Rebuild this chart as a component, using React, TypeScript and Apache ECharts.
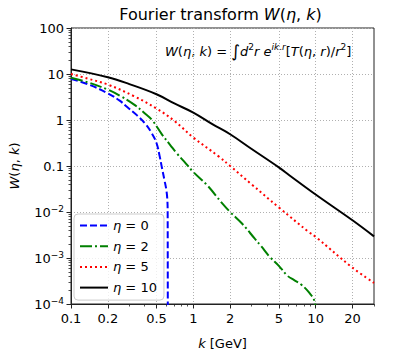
import React, { useEffect, useRef } from "react";
import * as echarts from "echarts";

const FONT = "DejaVu Sans";

// Axis ticks (k in GeV, W exponents)
const kMajorTicks = [0.1, 0.2, 0.5, 1, 2, 5, 10, 20];
const kMinorTicks = [0.3, 0.4, 0.6, 0.7, 0.8, 0.9, 3, 4, 6, 7, 8, 9, 30];
const kMin = 0.1;
const kMax = 30;
const wDecades = [-4, -3, -2, -1, 0, 1, 2];
const wMinorMantissas = [2, 3, 4, 5, 6, 7, 8, 9];

// Series: eta = 0
const kEta0 = [0.1, 0.137, 0.2, 0.25, 0.288, 0.347, 0.404, 0.458, 0.5, 0.53, 0.555, 0.58, 0.6, 0.612, 0.617, 0.619];
const wEta0 = [7.76, 6.03, 3.8, 2.63, 1.91, 1.26, 0.832, 0.513, 0.316, 0.166, 0.0891, 0.0501, 0.0316, 0.02, 0.01, 0.000001];

// eta = 2
const kEta2 = [0.1, 0.137, 0.2, 0.25, 0.326, 0.4, 0.46, 0.55, 0.65, 0.729, 0.84, 1, 1.3, 1.71, 2, 2.5, 3.18, 3.6, 4.2, 5, 5.91, 6.68, 7.57, 8.83, 9.82, 10.2];
const wEta2 = [8.32, 6.61, 4.57, 3.39, 2.19, 1.41, 1.0, 0.501, 0.282, 0.191, 0.126, 0.0741, 0.038, 0.0158, 0.01, 0.00562, 0.00263, 0.00178, 0.00107, 0.000676, 0.000407, 0.000331, 0.000269, 0.000178, 0.000112, 0.00004];

// eta = 5
const kEta5 = [0.1, 0.137, 0.2, 0.326, 0.5, 0.7, 1, 1.61, 2, 3, 5, 8.83, 10, 20, 30];
const wEta5 = [10, 7.94, 5.89, 3.31, 1.78, 0.955, 0.417, 0.162, 0.1, 0.0398, 0.0126, 0.00363, 0.00288, 0.000617, 0.000288];

// eta = 10
const kEta10 = [0.1, 0.2, 0.3, 0.5, 0.7, 1, 1.43, 2, 3, 5, 6.09, 10, 20, 30];
const wEta10 = [12.6, 8.51, 6.03, 3.63, 2.29, 1.45, 0.813, 0.49, 0.234, 0.0933, 0.0631, 0.024, 0.0066, 0.00295];

const seriesNames = ["η = 0", "η = 2", "η = 5", "η = 10"];
const seriesColors = ["#0000ff", "#008000", "#ff0000", "#000000"];

function yLabel(v: number): string {
  const e = Math.round(v);
  if (e === 2) return "100";
  if (e === 1) return "10";
  if (e === 0) return "1";
  if (e === -1) return "0.1";
  return `10{s|−${-e}}`;
}

function kLabel(v: number): string {
  const k = Math.pow(10, v);
  return String(Math.round(k * 1000) / 1000);
}

export default function App() {
  const ref = useRef<HTMLDivElement>(null);
  useEffect(() => {
    const chart = echarts.init(ref.current!, null, { renderer: "svg" });
    const pts = (ks: number[], ws: number[]) => ks.map((k, i) => [Math.log10(k), Math.log10(ws[i])]);
    const wMinor: number[] = [];
    wDecades.slice(0, -1).forEach((d) => wMinorMantissas.forEach((m) => wMinor.push(d + Math.log10(m))));

    const lineTypes: any[] = [[7, 3], [12, 3, 2, 3], [2, 3], "solid"];
    const datas = [pts(kEta0, wEta0), pts(kEta2, wEta2), pts(kEta5, wEta5), pts(kEta10, wEta10)];

    const grid = { left: 67, top: 28, right: 20, bottom: 43, show: true, borderColor: "#222", borderWidth: 1, backgroundColor: "transparent" };
    const xCommon = { type: "value", min: Math.log10(kMin), max: Math.log10(kMax), gridIndex: 0 };
    const yCommon = { type: "value", min: -4, max: 2, gridIndex: 0 };
    const italic = { fontStyle: "italic", fontFamily: FONT, fontSize: 13, color: "#000" };

    const option: any = {
      animation: false,
      backgroundColor: "#ffffff",
      textStyle: { fontFamily: FONT },
      grid,
      xAxis: [
        {
          ...xCommon,
          position: "bottom",
          name: "{i|k} [GeV]",
          nameLocation: "middle",
          nameGap: 33,
          nameTextStyle: { fontFamily: FONT, fontSize: 13, color: "#000", rich: { i: italic } },
          axisLine: { show: true, onZero: false, lineStyle: { color: "#222", width: 1 } },
          axisTick: { show: true, length: 4.5, customValues: kMajorTicks.map((k) => Math.log10(k)), lineStyle: { color: "#222", width: 1 } },
          axisLabel: { show: true, customValues: kMajorTicks.map((k) => Math.log10(k)), formatter: kLabel, fontFamily: FONT, fontSize: 13, color: "#000", margin: 8 },
          splitLine: { show: true, lineStyle: { color: "#b0b0b0", width: 1, type: [1, 2] } },
        },
        {
          ...xCommon,
          position: "bottom",
          axisLine: { show: false, onZero: false },
          axisTick: { show: true, length: 2.5, customValues: kMinorTicks.map((k) => Math.log10(k)), lineStyle: { color: "#222", width: 0.8 } },
          axisLabel: { show: false },
          splitLine: { show: false },
        },
      ],
      yAxis: [
        {
          ...yCommon,
          interval: 1,
          position: "left",
          name: "{i|W}({i|η}, {i|k})",
          nameLocation: "middle",
          nameGap: 50,
          nameTextStyle: { fontFamily: FONT, fontSize: 13, color: "#000", rich: { i: italic } },
          axisLine: { show: true, onZero: false, lineStyle: { color: "#222", width: 1 } },
          axisTick: { show: true, length: 4.5, lineStyle: { color: "#222", width: 1 } },
          axisLabel: {
            show: true,
            formatter: yLabel,
            fontFamily: FONT,
            fontSize: 13,
            color: "#000",
            margin: 7,
            rich: { s: { fontFamily: FONT, fontSize: 9, color: "#000", verticalAlign: "top", padding: [0, 0, 6, 0] } },
          },
          splitLine: { show: true, lineStyle: { color: "#b0b0b0", width: 1, type: [1, 2] } },
        },
        {
          ...yCommon,
          position: "left",
          axisLine: { show: false, onZero: false },
          axisTick: { show: true, length: 2.5, customValues: wMinor, lineStyle: { color: "#222", width: 0.8 } },
          axisLabel: { show: false },
          splitLine: { show: false },
        },
      ],
      legend: {
        orient: "vertical",
        left: 74,
        top: 214,
        padding: [5, 7, 6, 5],
        itemWidth: 28,
        itemHeight: 14,
        itemGap: 7.7,
        itemTextGap: 11,
        backgroundColor: "rgba(255,255,255,0.8)",
        borderColor: "#cccccc",
        borderWidth: 1,
        borderRadius: 4,
        itemStyle: { opacity: 0 },
        data: seriesNames,
        formatter: (name: string) => `{i|η} = ${name.split("=")[1].trim()}`,
        textStyle: { fontFamily: FONT, fontSize: 13, color: "#000", rich: { i: italic } },
      },
      graphic: [
        {
          type: "text",
          x: 220.5,
          y: 14,
          style: {
            text: "Fourier transform {i|W}({i|η}, {i|k})",
            fontFamily: FONT,
            fontSize: 16,
            fill: "#000",
            align: "center",
            verticalAlign: "middle",
            rich: { i: { fontStyle: "italic", fontFamily: FONT, fontSize: 16, fill: "#000" } },
          },
        },
        {
          type: "text",
          x: 165,
          y: 51,
          style: {
            text: "{i|W}({i|η}, {i|k}) = {int|∫}{i|d}{s|2}{i|r e}{si|ik}{s|.}{si|r}[{i|T}({i|η}, {i|r})/{i|r}{s|2}]",
            fontFamily: FONT,
            fontSize: 13,
            fill: "#000",
            align: "left",
            verticalAlign: "middle",
            rich: {
              i: { fontStyle: "italic", fontFamily: FONT, fontSize: 13, fill: "#000" },
              int: { fontFamily: FONT, fontSize: 17, fill: "#000" },
              s: { fontFamily: FONT, fontSize: 9, fill: "#000", verticalAlign: "top", padding: [0, 0, 6, 0] },
              si: { fontStyle: "italic", fontFamily: FONT, fontSize: 9, fill: "#000", verticalAlign: "top", padding: [0, 0, 6, 0] },
            },
          },
        },
      ],
      series: datas.map((d, i) => ({
        name: seriesNames[i],
        type: "line",
        xAxisIndex: 0,
        yAxisIndex: 0,
        data: d,
        symbol: "none",
        smooth: 0.4,
        clip: true,
        color: seriesColors[i],
        lineStyle: { color: seriesColors[i], width: 2, type: lineTypes[i] },
        z: 2 + i,
      })),
    };
    chart.setOption(option);
    return () => chart.dispose();
  }, []);
  return <div ref={ref} style={{ position: "fixed", left: 0, top: 0, width: 394, height: 355 }} />;
}
